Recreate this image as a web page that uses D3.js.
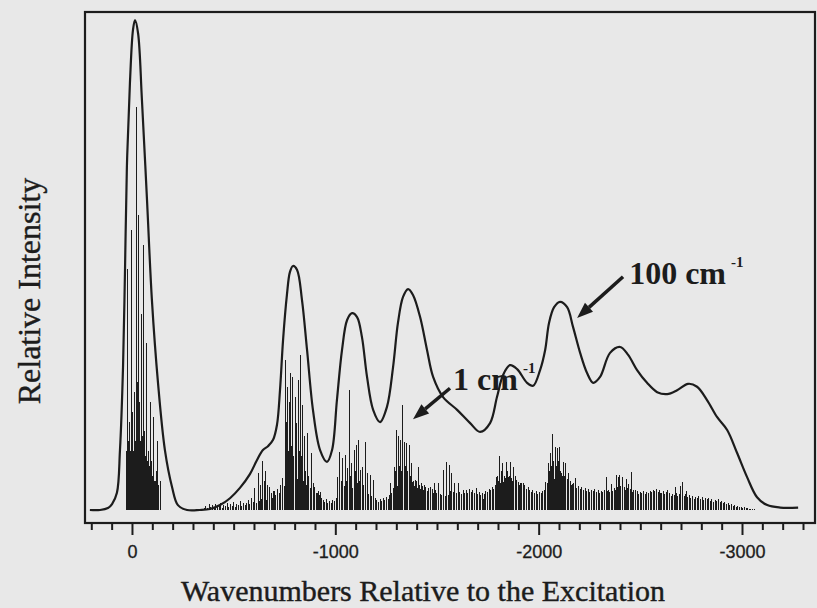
<!DOCTYPE html>
<html>
<head>
<meta charset="utf-8">
<script src="https://cdn.jsdelivr.net/npm/d3@7"></script>
<style>
  html, body { margin: 0; padding: 0; background: #e8e8e8; }
  svg { display: block; }
</style>
</head>
<body>
<svg id="chart" width="817" height="608"></svg>
<script>
// Simulated emission spectrum: 100 cm-1 envelope over the 1 cm-1 stick spectrum.
// Wavenumbers are relative to the excitation; intensities in arbitrary units (max 100).

// Envelope (100 cm-1 resolution): [wavenumber, intensity]
const envelope = [
  [207,0],[157,0],[118,0.4],[98,1.2],[74,3.5],[59,12.2],[44,29.1],[34,49.5],[25,69.9],[10,87],
  [-5,97.8],[-15,99.8],[-30,97.1],[-49,83.5],[-74,63.1],[-98,42.8],[-128,25.9],[-162,12.2],
  [-197,4.7],[-226,1.0],[-271,0],[-334,0],[-384,0.2],[-433,1.0],[-482,2.4],[-531,4.5],[-580,7.3],
  [-615,10.2],[-644,12.2],[-669,13.0],[-694,14.3],[-713,17.3],[-728,24.4],[-743,34.6],[-762,43.8],
  [-777,48.5],[-792,49.7],[-812,48.9],[-836,42.8],[-861,32.6],[-890,20.4],[-925,12.2],[-959,9.8],
  [-984,12.2],[-1008,22.4],[-1033,32.6],[-1058,38.7],[-1082,40.1],[-1107,39.3],[-1131,35.2],
  [-1156,27.1],[-1186,20.4],[-1220,17.9],[-1254,21.0],[-1284,29.1],[-1308,38.1],[-1333,43.4],
  [-1358,45.0],[-1382,43.8],[-1417,39.3],[-1451,32.6],[-1481,27.1],[-1530,23.0],[-1599,20.4],
  [-1663,17.7],[-1712,15.9],[-1761,17.7],[-1795,23.0],[-1825,27.5],[-1859,29.5],[-1894,28.7],
  [-1943,25.9],[-1973,25.3],[-2007,28.5],[-2032,32.6],[-2051,38.1],[-2076,41.3],[-2105,42.4],
  [-2140,41.3],[-2169,37.3],[-2204,32.0],[-2238,27.9],[-2268,25.9],[-2302,27.1],[-2351,32.0],
  [-2401,33.2],[-2440,31.6],[-2484,28.5],[-2533,25.9],[-2583,24.0],[-2632,23.6],[-2681,24.4],
  [-2735,25.7],[-2779,25.1],[-2828,22.4],[-2878,18.9],[-2927,16.3],[-2976,11.6],[-3025,6.7],
  [-3074,2.6],[-3124,1.0],[-3188,0.5],[-3276,0.5]
];

// Individual transitions (1 cm-1 resolution): [wavenumber, intensity]
const originLines = [
  [26,12],[23,49],[19,14],[15,10],[12,18],[8,12],[4,16],[1.5,57],[-2,14],[-5,20],[-8,12],
  [-12,24],[-16,14],[-20,82],[-24,18],[-27,26],[-31,60],[-35,16],[-39,22],[-43,14],[-48,40],
  [-52,15],[-56,54],[-60,13],[-64,16],[-68,11],[-72,34],[-76,10],[-80,12],[-85,9],[-89,22],
  [-93,8],[-98,10],[-103,7],[-108,19],[-112,6],[-117,6],[-120,8],[-124,14],[-128,5],
  [-132,4],[-138,6],[-142,3]
];
const progressionLines = [
  // ~ -650 shoulder
  [-605,4.5],[-620,7.5],[-632,5],[-644,10],[-652,6],[-659,8],[-667,5],[-674,4.7],[-694,3.9],
  // ~ -800 band
  [-753,30.5],[-758,18],[-764,25],[-770,12],[-774,22],[-782,28],[-786,13],
  [-790,27],[-796,11],[-802,23],[-810,17.7],[-818,26.5],[-823,12],
  [-828,31.6],[-833,11],[-838,21.4],[-846,15],[-852,8],[-862,15.6],[-870,7],
  [-881,11.6],[-892,5.5],[-911,3.5],[-925,3.7],
  // ~ -1080 band
  [-1010,6.7],[-1023,11.8],[-1029,6],[-1036,10.6],[-1048,11.2],[-1054,6],[-1059,8.6],
  [-1069,24.4],[-1075,7],[-1081,9.6],[-1092,12.2],[-1097,8],[-1102,13.2],
  [-1113,14.3],[-1118,6],[-1125,8.1],[-1135,8.8],[-1140,5],[-1146,13.8],
  [-1157,7.5],[-1171,7.1],[-1187,6.1],
  // ~ -1350 band
  [-1269,5.5],[-1289,8.8],[-1296,8],[-1302,16.3],[-1313,15],[-1318,9],[-1322,14.3],
  [-1327,8],[-1332,21.4],[-1339,13.8],[-1345,9],[-1351,13.6],[-1357,8],[-1363,13.2],[-1370,7],
  [-1376,9.6],[-1384,6],[-1392,6.1],[-1398,6],[-1408,8.8],[-1416,5],[-1425,5.5],[-1441,5.1],
  [-1466,4.7],[-1486,5.5],[-1507,5.5],
  // ~ -1560 band
  [-1531,8.1],[-1548,9.8],[-1561,9.2],[-1573,7.5],[-1584,5.5],[-1605,5.5],[-1630,4.1],
  [-1648,3.5],[-1671,3.7],[-1696,4.5],[-1727,2.2],
  // ~ -1850 band
  [-1791,6.7],[-1800,7],[-1807,11],[-1816,8],[-1824,9.6],[-1832,7],[-1840,9.8],[-1848,8],
  [-1856,7],[-1863,9.8],[-1870,6],[-1876,8.8],[-1884,7],[-1892,6.1],[-1900,5],[-1909,5.5],
  [-1925,5.5],
  // ~ -2080 band
  [-2035,5.7],[-2048,9.6],[-2052,8],[-2056,11.6],[-2062,9],[-2067,15.5],[-2072,10],[-2081,12.8],
  [-2086,9],[-2092,12.6],[-2097,10],[-2102,12.8],[-2108,8],[-2114,7.5],[-2118,7],[-2122,9.8],
  [-2128,7],[-2133,9.6],[-2140,6],[-2146,7.5],[-2163,5],[-2179,6.5],
  // ~ -2400 band
  [-2332,6.7],[-2343,4],[-2356,5.3],[-2381,7.1],[-2391,6.7],[-2400,7.1],[-2410,6.7],[-2430,6.3],
  [-2443,5.3],[-2458,7.8],[-2474,4],
  // ~ -2680 band
  [-2597,3.4],[-2632,4],[-2671,4.7],[-2696,4.8],[-2709,5.7],[-2725,3.8]
];

// Dense weak transitions on a regular grid: start, step (cm-1) and intensities
const floorStart = -340;
const floorStep = -8;
const floorHeights = [
  0.3,0,0.4,
  0.8,0.5,1.2,0.6,1,0.4,1.3,0.7,0.9,1.4,0.5,1.1,0.8,1.5,0.6,1.2,0.9,1.6,0.7,1.3,1,1.8,0.8,1.4,1.1,
  1.5,2,1.2,2.4,1.7,2.2,1.4,2.6,1.9,2.3,1.5,2.8,2,3,2.2,3.4,2.5,3.8,3,4.2,3.5,
  5,6.5,4.8,7,5.5,8,6,7.5,5.2,8.2,6.4,7,5.8,7.6,6,6.8,5,6.2,4.5,5.5,4,4.6,3.5,3.8,3,
  2.4,2,1.6,2.2,1.5,1.8,1.4,2,1.8,
  2.5,3.5,3,4.2,3.4,4.8,3.8,5.2,4,5.5,4.4,5,4.2,5.6,4.5,5,4,4.6,3.6,4.2,3.2,3.6,2.8,3,2.4,
  2,1.6,2.2,1.8,2.4,2,2.6,2.2,3,
  3.5,4.5,4,5.5,4.8,6,5.2,6.4,5.5,6.8,5.6,6.2,5,5.8,4.8,5.4,4.5,5,4.2,4.8,4,4.6,3.8,4.4,3.6,4.2,3.5,4,3.4,3.8,3.2,
  3,3.6,2.8,3.4,3,3.8,3.2,3.6,2.9,3.4,3.1,3.7,3.3,3.8,3.4,4,3.5,4.2,3.6,4,3.4,3.8,3.2,3.6,3,3.5,3.2,3.8,3.6,4.2,4,4.6,4.2,5,
  5.2,6,5.4,6.4,5.8,6.6,6,6.8,6.2,6.6,5.8,6.2,5.4,5.8,5,5.4,4.6,5,4.2,4.6,4,
  3.6,4,3.4,3.8,3.2,3.6,3.4,3.8,4,
  4.6,5.4,5,6,5.6,6.4,6,6.8,6.2,7,6.4,6.8,6,6.4,5.6,6,5.2,5.6,4.8,
  4.4,4.8,4.2,4.6,4,4.4,3.8,4.2,3.6,4,3.8,4.2,3.6,4,3.4,3.8,3.6,4,3.4,3.8,
  3.6,4.2,3.8,4.4,4,4.6,4.2,4.8,4.4,4.6,4,4.4,3.8,4.2,3.6,4,3.4,3.8,3.2,3.6,
  3.4,3.8,3.2,3.6,3.4,3.8,3.6,4,3.8,4.2,3.6,4,3.4,3.8,3.2,3.6,3,3.4,2.8,3.2,
  3,3.4,2.8,3.2,2.6,3,2.8,3.2,2.6,3,2.4,2.8,2.2,2.6,2.4,2.8,2.2,2.6,2,2.4,
  2.2,2.4,1.8,2.2,1.6,2,1.8,2.2,1.6,1.8,1.4,1.6,1.2,1.4,1,1.2,0.8,1,0.6,0.8,
  0.6,0.7,0.5,0.6,0.4,0.4,0.3,0.3,0.2,0.2
];

// Axis ticks and labels
const majorTicks = [0, -1000, -2000, -3000];
const majorLabels = ["0", "-1000", "-2000", "-3000"];
const xTitle = "Wavenumbers Relative to the Excitation";
const yTitle = "Relative Intensity";

// Annotations: label, text anchor and arrow tail/tip in data units
const notes = [
  { main: "1 cm", sup: "-1", text: [-1579, 24.4], tail: [-1564, 24.8], tip: [-1382, 18.5] },
  { main: "100 cm", sup: "-1", text: [-2445, 46.0], tail: [-2415, 47.5], tip: [-2189, 39.1] }
];

// ---- layout ----
const frame = { left: 85, right: 815, top: 12, bottom: 523 };
const ink = "#1c1c1c";
const serif = "'Liberation Serif', 'Times New Roman', Times, serif";
const sans = "'Liberation Sans', Arial, Helvetica, sans-serif";

const svg = d3.select("#chart");
svg.append("rect").attr("width", 817).attr("height", 608).attr("fill", "#e8e8e8");

const x = d3.scaleLinear().domain([231, -3359]).range([frame.left, frame.right]);
const y = d3.scaleLinear().domain([0, 100]).range([510, 19]);

// sticks
const floorLines = floorHeights.map((h, i) => [floorStart + i * floorStep, h]);
const sticks = svg.append("g")
  .attr("stroke", ink)
  .attr("fill", "none")
  .attr("shape-rendering", "crispEdges");
sticks.selectAll("line.floor").data(floorLines).join("line")
  .attr("class", "floor")
  .attr("x1", d => x(d[0])).attr("x2", d => x(d[0]))
  .attr("y1", y(0)).attr("y2", d => y(d[1]))
  .attr("stroke-width", 1);
sticks.selectAll("line.stick").data(originLines.concat(progressionLines)).join("line")
  .attr("class", "stick")
  .attr("x1", d => x(d[0])).attr("x2", d => x(d[0]))
  .attr("y1", y(0)).attr("y2", d => y(d[1]))
  .attr("stroke-width", 1);

// envelope
svg.append("path")
  .datum(envelope)
  .attr("fill", "none")
  .attr("stroke", ink)
  .attr("stroke-width", 2.2)
  .attr("stroke-linejoin", "round")
  .attr("d", d3.line().x(d => x(d[0])).y(d => y(d[1])).curve(d3.curveCatmullRom.alpha(0.5)));

// frame
svg.append("rect")
  .attr("x", frame.left).attr("y", frame.top)
  .attr("width", frame.right - frame.left).attr("height", frame.bottom - frame.top)
  .attr("fill", "none").attr("stroke", ink).attr("stroke-width", 2.2);

// x axis: minor ticks every 100, major every 1000
const minorTicks = d3.range(200, -3301, -100).filter(v => !majorTicks.includes(v));
const axisMinor = svg.append("g")
  .attr("transform", `translate(0,${frame.bottom})`)
  .call(d3.axisBottom(x).tickValues(minorTicks).tickSize(7).tickFormat(""));
const axisMajor = svg.append("g")
  .attr("transform", `translate(0,${frame.bottom})`)
  .call(d3.axisBottom(x).tickValues(majorTicks).tickSize(12).tickPadding(10)
    .tickFormat((d, i) => majorLabels[i]));
[axisMinor, axisMajor].forEach(g => {
  g.select(".domain").remove();
  g.selectAll(".tick line").attr("stroke", ink).attr("stroke-width", 2);
});
axisMajor.selectAll(".tick text")
  .attr("fill", ink)
  .attr("stroke", ink)
  .attr("stroke-width", 0.3)
  .style("font-family", sans)
  .style("font-size", "18px");

// axis titles
svg.append("text")
  .attr("x", 423).attr("y", 601)
  .attr("text-anchor", "middle")
  .attr("fill", ink)
  .attr("stroke", ink)
  .attr("stroke-width", 0.4)
  .style("font-family", serif)
  .style("font-size", "30px")
  .text(xTitle);
svg.append("text")
  .attr("transform", "translate(40,291) rotate(-90)")
  .attr("text-anchor", "middle")
  .attr("fill", ink)
  .attr("stroke", ink)
  .attr("stroke-width", 0.4)
  .style("font-family", serif)
  .style("font-size", "32px")
  .text(yTitle);

// annotations
notes.forEach(n => {
  const t = svg.append("text")
    .attr("x", x(n.text[0])).attr("y", y(n.text[1]))
    .attr("fill", ink)
    .style("font-family", serif)
    .style("font-weight", "bold")
    .style("font-size", "32px");
  t.append("tspan").text(n.main);
  t.append("tspan").attr("dx", 5).attr("dy", -17).style("font-size", "15px").text(n.sup);

  const x0 = x(n.tail[0]), y0 = y(n.tail[1]);
  const x1 = x(n.tip[0]), y1 = y(n.tip[1]);
  const ang = Math.atan2(y1 - y0, x1 - x0);
  const headLen = 16, headHalf = 6;
  const bx = x1 - headLen * Math.cos(ang), by = y1 - headLen * Math.sin(ang);
  svg.append("line")
    .attr("x1", x0).attr("y1", y0).attr("x2", bx).attr("y2", by)
    .attr("stroke", ink).attr("stroke-width", 3.5);
  svg.append("path")
    .attr("d", d3.line()([
      [x1, y1],
      [bx + headHalf * Math.sin(ang), by - headHalf * Math.cos(ang)],
      [bx - headHalf * Math.sin(ang), by + headHalf * Math.cos(ang)]
    ]) + "Z")
    .attr("fill", ink);
});
</script>
</body>
</html>
